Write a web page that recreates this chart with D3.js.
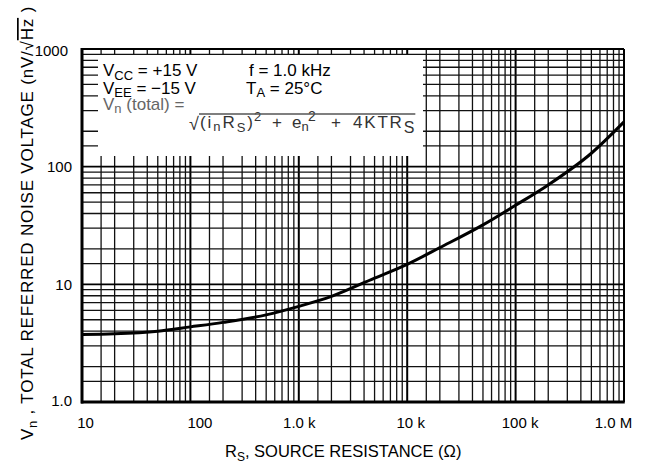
<!DOCTYPE html>
<html><head><meta charset="utf-8">
<script src="https://cdn.jsdelivr.net/npm/d3@7"></script>
<style>
html,body{margin:0;padding:0;background:#fff;}
svg{display:block;font-family:"Liberation Sans",Arial,Helvetica,sans-serif;}
</style></head>
<body><svg id="c" width="649" height="463"></svg>
<script>
// ---- data ----
const xTicks = [10, 100, 1e3, 1e4, 1e5, 1e6];
const xTickLabels = ["10", "100", "1.0 k", "10 k", "100 k", "1.0 M"];
const yTicks = [1, 10, 100, 1000];
const yTickLabels = ["1.0", "10", "100", "1000"];
const minorSteps = [1.5, 2, 3, 4, 5, 6, 7, 8, 9];
const resistance = [10, 20, 50, 100, 200, 500, 1000, 2000, 5000, 10000, 20000, 50000, 100000, 200000, 500000, 1000000];
const noise =      [3.75, 3.8, 4.0, 4.35, 4.75, 5.5, 6.5, 7.9, 11.3, 14.8, 20.5, 32, 47, 70, 130, 240];

// ---- layout ----
const L = 82, R = 624, T = 49, B = 402;
const svg = d3.select("#c");
const x = d3.scaleLog().domain([10, 1e6]).range([L, R]);
const y = d3.scaleLog().domain([1, 1000]).range([B, T]);

// grid
const xMinor = [], yMinor = [];
xTicks.slice(0, -1).forEach(d => minorSteps.forEach(m => xMinor.push(d * m)));
yTicks.slice(0, -1).forEach(d => minorSteps.forEach(m => yMinor.push(d * m)));
const grid = svg.append("g");
grid.selectAll(".vx").data(xMinor).join("line")
  .attr("x1", d => x(d)).attr("x2", d => x(d)).attr("y1", T).attr("y2", B)
  .attr("stroke", "#111").attr("stroke-width", 1.3);
grid.selectAll(".vX").data(xTicks).join("line")
  .attr("x1", d => x(d)).attr("x2", d => x(d)).attr("y1", T).attr("y2", B)
  .attr("stroke", "#000").attr("stroke-width", 2);
grid.selectAll(".hy").data(yMinor).join("line")
  .attr("y1", d => y(d)).attr("y2", d => y(d)).attr("x1", L).attr("x2", R)
  .attr("stroke", "#111").attr("stroke-width", 1.3);
grid.selectAll(".hY").data(yTicks).join("line")
  .attr("y1", d => y(d)).attr("y2", d => y(d)).attr("x1", L).attr("x2", R)
  .attr("stroke", "#000").attr("stroke-width", 1.6);

// frame
svg.append("line").attr("x1", L).attr("x2", R).attr("y1", T).attr("y2", T).attr("stroke", "#000").attr("stroke-width", 2);
svg.append("line").attr("x1", R).attr("x2", R).attr("y1", T).attr("y2", B).attr("stroke", "#000").attr("stroke-width", 1.5);
svg.append("line").attr("x1", L - 1).attr("x2", R + 0.75).attr("y1", B).attr("y2", B).attr("stroke", "#000").attr("stroke-width", 3);
svg.append("line").attr("x1", L).attr("x2", L).attr("y1", T - 1).attr("y2", B + 1.5).attr("stroke", "#000").attr("stroke-width", 3);

// annotation box
svg.append("rect").attr("x", 98).attr("y", 55).attr("width", 325).attr("height", 101).attr("fill", "#fff");

function rich(parent, px, py, segs, size, color) {
  const t = parent.append("text").attr("x", px).attr("y", py)
    .attr("font-size", size).attr("fill", color || "#000");
  segs.forEach(s => {
    const ts = t.append("tspan").text(s.t);
    if (s.dy) ts.attr("dy", s.dy);
    if (s.size) ts.attr("font-size", s.size);
    if (s.ls) ts.attr("letter-spacing", s.ls);
  });
  return t;
}
const box = svg.append("g");
rich(box, 103, 76, [{t: "V"}, {t: "CC", dy: 4, size: 13}, {t: " = +15 V", dy: -4}], 17);
rich(box, 249, 76, [{t: "f = 1.0 kHz"}], 17);
rich(box, 103, 94, [{t: "V"}, {t: "EE", dy: 3, size: 13}, {t: " = −15 V", dy: -3}], 17);
rich(box, 246, 94, [{t: "T"}, {t: "A", dy: 3, size: 13}, {t: " = 25°C", dy: -3}], 17);
rich(box, 103, 110, [{t: "V"}, {t: "n", dy: 3, size: 13}, {t: " (total) =", dy: -3}], 17, "#666");
const fc = "#333";
rich(box, 189, 130, [{t: "√"}], 18, fc);
rich(box, 200, 128, [{t: "(i"}, {t: "n", dy: 3, size: 13}, {t: "R", dy: -3}, {t: "S", dy: 4, size: 13}, {t: ")", dy: -4}], 17, fc)
  .attr("textLength", 53).attr("lengthAdjust", "spacing");
rich(box, 254, 121, [{t: "2"}], 13, fc);
rich(box, 272, 128, [{t: "+"}], 17, fc);
rich(box, 292, 128, [{t: "e"}, {t: "n", dy: 3, size: 13}], 17, fc);
rich(box, 308, 121, [{t: "2"}], 14, fc);
rich(box, 331, 128, [{t: "+"}], 17, fc);
const last = rich(box, 353, 128, [{t: "4KTR", ls: 1.8}, {t: "S", dy: 5, size: 16}], 17, fc);
const lb = last.node().getBBox();
box.append("line").attr("x1", 199).attr("x2", lb.x + lb.width + 1).attr("y1", 114).attr("y2", 114)
  .attr("stroke", "#555").attr("stroke-width", 1.3);

// curve
const pts = resistance.map((r, i) => [x(r), y(noise[i])]);
svg.append("path").attr("d", d3.line().curve(d3.curveMonotoneX)(pts))
  .attr("fill", "none").attr("stroke", "#000").attr("stroke-width", 3);

// axes (labels only)
const xa = svg.append("g").attr("transform", `translate(0,${B})`)
  .call(d3.axisBottom(x).tickValues(xTicks).tickFormat((d, i) => xTickLabels[i]).tickSize(0).tickPadding(15));
xa.select(".domain").remove();
xa.selectAll("text").attr("font-size", 15).attr("fill", "#000").attr("font-family", null)
  .attr("dx", (d, i) => [3, 9, 0, 3, 4, -11][i]);
const ya = svg.append("g").attr("transform", `translate(${L},0)`)
  .call(d3.axisLeft(y).tickValues(yTicks).tickFormat((d, i) => yTickLabels[i]).tickSize(0).tickPadding(10));
ya.select(".domain").remove();
ya.selectAll("text").attr("font-size", 15).attr("fill", "#000").attr("font-family", null)
  .attr("dx", (d, i) => [0, 0, 0, -4][i])
  .attr("dy", (d, i) => ["0.2em", "0.32em", "0.32em", "0.45em"][i]);

// axis titles
rich(svg, 225, 457, [{t: "R"}, {t: "S", dy: 4, size: 12}, {t: ", SOURCE RESISTANCE (Ω)", dy: -4}], 16.5);
const yt = svg.append("text").attr("transform", "translate(33,223) rotate(-90)")
  .attr("text-anchor", "middle").attr("font-size", 17).attr("letter-spacing", 0.8).attr("fill", "#000");
[{t: "V"}, {t: "n", dy: 4, size: 13}, {t: " , TOTAL REFERRED NOISE VOLTAGE (nV/√", dy: -4}, {t: "Hz", o: true}, {t: "  )"}]
  .forEach(s => {
    const ts = yt.append("tspan").text(s.t);
    if (s.dy) ts.attr("dy", s.dy);
    if (s.size) ts.attr("font-size", s.size);
    if (s.o) ts.style("text-decoration", "overline");
  });
</script></body></html>
